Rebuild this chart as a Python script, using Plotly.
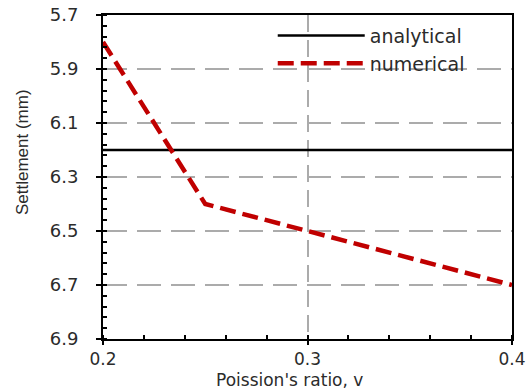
import plotly.graph_objects as go

poisson = [0.2, 0.25, 0.3, 0.4]
numerical = [5.8, 6.4, 6.5, 6.7]
analytical_x = [0.2, 0.4]
analytical = [6.2, 6.2]
y_ticks = [5.7, 5.9, 6.1, 6.3, 6.5, 6.7, 6.9]
x_ticks = [0.2, 0.3, 0.4]

font = "DejaVu Sans, Liberation Sans, Arial, sans-serif"
font2 = "Liberation Sans, Arial, sans-serif"
txt = "#2b2b2b"

fig = go.Figure()
fig.add_trace(go.Scatter(x=analytical_x, y=analytical, mode="lines", name="analytical",
                         line=dict(color="black", width=2.5)))
fig.add_trace(go.Scatter(x=poisson, y=numerical, mode="lines", name="numerical",
                         line=dict(color="#C00000", width=4.5, dash="16px,7px")))

axis_common = dict(showline=True, linecolor="black", linewidth=2, mirror=True,
                   ticks="outside", tickwidth=2, tickcolor="black",
                   showgrid=True, gridcolor="#ababab", gridwidth=2,
                   zeroline=False, automargin=False)

fig.update_xaxes(range=[0.2, 0.4], tickvals=x_ticks, ticktext=[f"{v:.1f}" for v in x_ticks],
                 griddash="17px,8px", ticklabelstandoff=0, ticklen=4,
                 tickfont=dict(family=font, size=17, color=txt),
                 minor=dict(dtick=0.02, tick0=0.2, ticks="inside", ticklen=4, tickwidth=2, tickcolor="black", showgrid=False),
                 **axis_common)
fig.update_yaxes(range=[6.9, 5.7], tickvals=y_ticks, ticktext=[f"{v:.1f}" for v in y_ticks],
                 griddash="24px,10px", ticklabelstandoff=14, ticklen=5,
                 tickfont=dict(family=font, size=18, color=txt),
                 minor=dict(dtick=0.04, tick0=5.7, ticks="inside", ticklen=4, tickwidth=2, tickcolor="black", showgrid=False),
                 **axis_common)

fig.add_annotation(text="Poission's ratio, v", xref="paper", yref="paper", x=0.455, y=-0.16,
                   xanchor="center", yanchor="bottom", showarrow=False, borderpad=0,
                   font=dict(family=font, size=17, color=txt))
fig.add_annotation(text="Settlement (mm)", xref="paper", yref="paper", x=-0.198, y=0.577,
                   xanchor="center", yanchor="middle", showarrow=False, textangle=-90,
                   font=dict(family=font2, size=17, color=txt))

fig.update_layout(width=529, height=391, margin=dict(l=103, r=17, t=15, b=52),
                  template="none",
                  plot_bgcolor="white", paper_bgcolor="white",
                  legend=dict(x=0.415, y=0.995, xanchor="left", yanchor="top", bgcolor="rgba(0,0,0,0)",
                              font=dict(family=font, size=19, color=txt), itemwidth=87,
                              tracegroupgap=0),
                  showlegend=True)

fig.write_html("out.html")
